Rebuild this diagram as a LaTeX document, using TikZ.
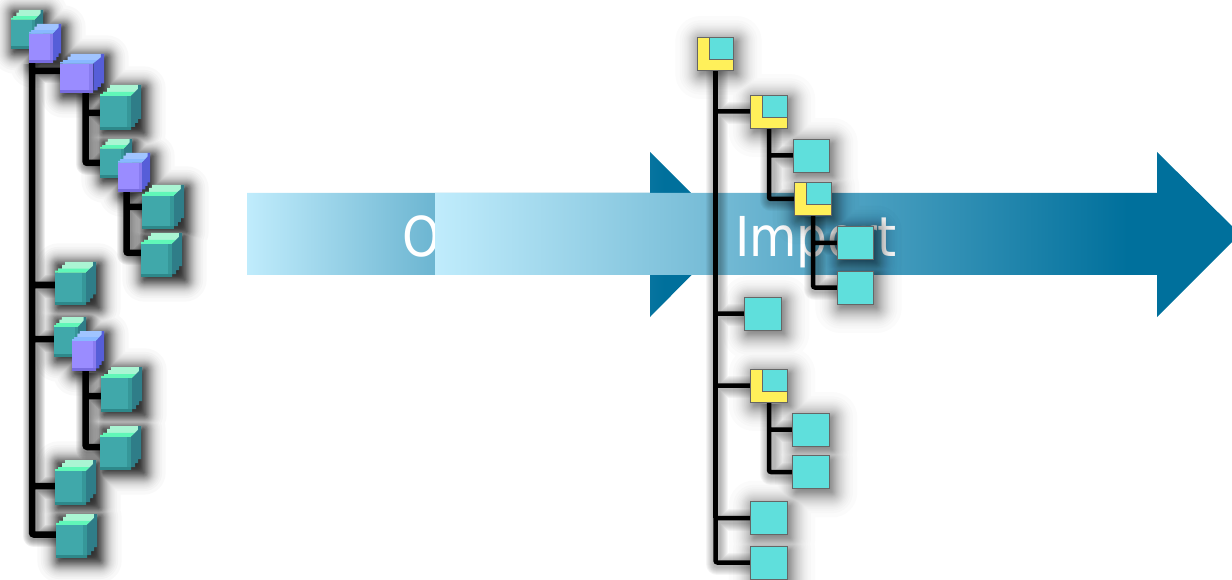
\documentclass[tikz,border=0pt]{standalone}
\usepackage{xcolor}
\usepackage{fontspec}
\setmainfont{DejaVu Sans}
\usetikzlibrary{arrows.meta, positioning, backgrounds, calc}
\definecolor{arrowlight}{RGB}{192, 236, 252}
\definecolor{arrowmid}{RGB}{114, 185, 212}
\definecolor{arrowdark}{RGB}{0, 112, 156}
\definecolor{tealtop}{RGB}{170, 245, 211}
\definecolor{tealedge}{RGB}{96, 247, 184}
\definecolor{tealfront}{RGB}{64, 168, 170}
\definecolor{tealband}{RGB}{46, 136, 138}
\definecolor{tealside}{RGB}{47, 125, 136}
\definecolor{bluetop}{RGB}{160, 196, 255}
\definecolor{blueedge}{RGB}{136, 184, 255}
\definecolor{bluefront}{RGB}{154, 140, 255}
\definecolor{blueband}{RGB}{120, 108, 224}
\definecolor{blueside}{RGB}{86, 94, 216}
\definecolor{folderyellow}{RGB}{255, 240, 90}
\definecolor{foldercyan}{RGB}{95, 223, 220}
\pgfdeclarehorizontalshading{arrowfade}{100bp}{color(0bp)=(arrowlight); color(25bp)=(arrowlight); color(43bp)=(arrowmid); color(68bp)=(arrowdark); color(100bp)=(arrowdark)}
\pgfdeclarelayer{arrows}
\pgfdeclarelayer{shadow}
\pgfsetlayers{arrows,shadow,background,main}
\tikzset{
    cubenode/.style={inner sep=0pt, minimum width=#1, outer sep=0pt},
    treelink/.style={black, line width=6.5pt, rounded corners=2pt},
    filelink/.style={black, line width=4.5pt, rounded corners=2pt},
    filebox/.style={draw=black!60, line width=0.6pt, fill=foldercyan, inner sep=0pt, outer sep=0pt,
        minimum width=36.5pt, minimum height=33pt},
    folderbox/.style={filebox, fill=folderyellow,
        path picture={\draw[draw=black!60, line width=0.6pt, fill=foldercyan]
            ([xshift=12pt,yshift=11pt]path picture bounding box.south west)
            rectangle (path picture bounding box.north east);}},
    arrowword/.style={text=white, font=\fontsize{55pt}{55pt}\selectfont, inner sep=0pt,
        anchor=base west, xscale=0.885, transform shape}
}
% one pixel-stepped cube: name, left, top, width, height, palette
\newcommand{\cubeicon}[6]{
    \begin{scope}[shift={(#2,#3)}, xscale=#4/41, yscale=#5/45]
        \fill[#6top] (0,11) -- (3,11) -- (3,7) -- (7,7) -- (7,3) -- (10,3) -- (10,0) -- (41,0) -- (41,3) -- (31,11) -- cycle;
        \fill[#6edge] (0,11) -- (0,9) -- (3,9) -- (3,7) -- (35,7) -- (31,11) -- cycle;
        \fill[#6side] (31,11) -- (35,7) -- (38,4) -- (38,0) -- (41,0) -- (41,34) -- (38,34) -- (38,38) -- (35,38) -- (35,42) -- (31,42) -- (31,45) -- cycle;
        \fill[#6front] (0,11) rectangle (31,45);
        \fill[#6band] (0,42) rectangle (31,45);
        \fill[#6band, opacity=0.5] (27,11) rectangle (31,42);
    \end{scope}
    \node[cubenode=#4pt, minimum height=#5pt] (#1) at (#2+#4/2, #3+#5/2) {};
}
\newcommand{\cubelinks}{
    (trunkA) |- ([yshift=2.5pt]blueB.west)
    (trunkA) |- ([yshift=-1.5pt]tealF.west)
    (trunkA) |- ([yshift=-2pt]tealG.west)
    (trunkA) |- ([yshift=-3.5pt]tealJ.west)
    (trunkA) |- ([yshift=1.5pt]tealK.west)
    (trunkB) |- ([yshift=-5.5pt]tealB.west)
    (trunkB) |- ([yshift=-4.5pt]tealC.west)
    (trunkC) |- (tealD.west)
    (trunkC) |- ([yshift=2pt]tealE.west)
    (trunkD) |- ([yshift=-6.5pt]tealH.west)
    (trunkD) |- ([yshift=1pt]tealI.west)
}
\newcommand{\filelinks}{
    (folderA.south) |- (folderB.west)
    (folderA.south) |- (fileD.west)
    (folderA.south) |- (folderD.west)
    (folderA.south) |- (fileG.west)
    (folderA.south) |- (fileH.west)
    (folderB.south) |- (fileA.west)
    (folderB.south) |- (folderC.west)
    (folderC.south) |- (fileB.west)
    (folderC.south) |- (fileC.west)
    (folderD.south) |- (fileE.west)
    (folderD.south) |- (fileF.west)
}
% soft shadow of boxes: softness, spread, darkness, layer opacity, layers, names
\newcommand{\softboxes}[6]{
    \foreach \k in {1,...,#5} {
        \pgfmathsetmacro{\d}{#2+#1*ln(#3/(1-(1-#4)^\k)-1)}
        \pgfmathsetmacro{\r}{abs(\d)+0.1}
        \fill[black, opacity=#4, rounded corners=\r pt]
            \foreach \item in {#6} {
                ([shift={(-\d pt,-\d pt)}]\item.south west) rectangle ([shift={(\d pt,\d pt)}]\item.north east)
            };
    }
}
\begin{document}
\begin{tikzpicture}[x=1pt, y=-1pt]
    \useasboundingbox (0,0) rectangle (1232,580);

    % Big arrows
    \begin{pgfonlayer}{arrows}
        \shade[shading=arrowfade] (247,193) -- (650,193) -- (650,152) -- (732,234) -- (650,317) -- (650,275) -- (247,275) -- cycle;
        \node[arrowword] (wordO) at (402,257) {O};
        \shade[shading=arrowfade] (435,193) -- (1157,193) -- (1157,152) -- (1240,234) -- (1157,317) -- (1157,275) -- (435,275) -- cycle;
        \node[arrowword] (wordImport) at (735,257) {Import};
    \end{pgfonlayer}

    % Cube tree
    \cubeicon{tealA}{11}{10}{32}{39}{teal}
    \cubeicon{blueA}{29}{24}{32}{39}{blue}
    \cubeicon{blueB}{60}{54}{44}{39}{blue}
    \cubeicon{tealB}{100}{85}{41}{45}{teal}
    \cubeicon{tealC}{100}{139}{32}{39}{teal}
    \cubeicon{blueC}{118}{153}{32}{39}{blue}
    \cubeicon{tealD}{142}{185}{42}{44}{teal}
    \cubeicon{tealE}{141}{233}{41}{44}{teal}
    \cubeicon{tealF}{55}{262}{41}{43}{teal}
    \cubeicon{tealG}{54}{317}{32}{40}{teal}
    \cubeicon{blueD}{72}{331}{32}{40}{blue}
    \cubeicon{tealH}{101}{367}{41}{45}{teal}
    \cubeicon{tealI}{100}{426}{41}{44}{teal}
    \cubeicon{tealJ}{55}{460}{41}{45}{teal}
    \cubeicon{tealK}{56}{514}{41}{44}{teal}

    % Trunks of the cube tree
    \coordinate (trunkA) at ([xshift=-13pt]blueA.south);
    \coordinate (trunkB) at ([xshift=3.5pt]blueB.south);
    \coordinate (trunkC) at ([xshift=-7.5pt]blueC.south);
    \coordinate (trunkD) at ([xshift=-2.5pt]blueD.south);

    % File tree
    \node[folderbox] (folderA) at (715.5,53.5) {};
    \node[folderbox] (folderB) at (769,111.5) {};
    \node[filebox] (fileA) at (811.5,155.5) {};
    \node[folderbox] (folderC) at (813,199) {};
    \node[filebox] (fileB) at (855.5,243) {};
    \node[filebox] (fileC) at (855.5,287.5) {};
    \node[filebox] (fileD) at (763,313.5) {};
    \node[folderbox] (folderD) at (769,385.5) {};
    \node[filebox] (fileE) at (811,429.5) {};
    \node[filebox] (fileF) at (811,472) {};
    \node[filebox] (fileG) at (769,518) {};
    \node[filebox] (fileH) at (769,562.5) {};

    % Connectors
    \begin{pgfonlayer}{background}
        \draw[treelink] \cubelinks;
        \draw[filelink] \filelinks;
        \draw[filelink, line width=5.5pt] (folderA.south) -- (folderA.south |- fileG.west);
    \end{pgfonlayer}

    % Soft shadows
    \begin{pgfonlayer}{shadow}
        \begin{scope}[transform canvas={shift={(3pt,-3pt)}}]
            \softboxes{5}{3.5}{0.97}{0.025}{95}{tealA,blueA,blueB,tealB,tealC,blueC,tealD,tealE,tealF,tealG,blueD,tealH,tealI,tealJ,tealK}
        \end{scope}
        \begin{scope}[transform canvas={shift={(3pt,-4pt)}}]
            \softboxes{6}{3}{0.6}{0.015}{50}{folderA,folderB,fileA,folderC,fileB,fileC,fileD,folderD,fileE,fileF,fileG,fileH}
        \end{scope}
        \begin{scope}[transform canvas={shift={(1.5pt,-1.5pt)}}]
            \foreach \w in {22,20,18,16,14,12,10,8} {
                \draw[black, opacity=0.06, line width=\w pt, line join=round] \cubelinks;
                \draw[black, opacity=0.04, line width=\w pt, line join=round] \filelinks;
            }
        \end{scope}
    \end{pgfonlayer}
\end{tikzpicture}
\end{document}
